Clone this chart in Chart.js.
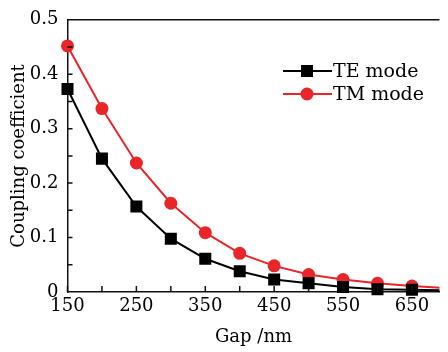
<!DOCTYPE html>
<html lang="en">
<head>
    <meta charset="UTF-8">
    <title>Coupling coefficient vs gap</title>
    <script src="https://cdn.jsdelivr.net/npm/chart.js"></script>
    <style>
        body { margin: 0; background: #fff; overflow: hidden; }
        #wrap { position: relative; width: 448px; height: 352px; }
    </style>
</head>
<body>
    <div id="wrap"><canvas id="gapChart"></canvas></div>

    <script>
        // values
        const gaps = [150, 200, 250, 300, 350, 400, 450, 500, 550, 600, 650, 700];
        const teMode = [0.373, 0.245, 0.157, 0.098, 0.061, 0.038, 0.023, 0.016, 0.009, 0.005, 0.004, 0.003];
        const tmMode = [0.452, 0.337, 0.237, 0.163, 0.109, 0.071, 0.048, 0.032, 0.023, 0.016, 0.011, 0.007];
        const xLabels = [150, 250, 350, 450, 550, 650];
        const yLabels = [0, 0.1, 0.2, 0.3, 0.4, 0.5];

        const RED = '#e8262a';
        const FONT = "'DejaVu Serif', serif";

        // inward ticks, top frame line and the legend inside the plot
        const framePlugin = {
            id: 'frame',
            afterDraw(chart) {
                const ctx = chart.ctx;
                const area = chart.chartArea;
                const xs = chart.scales.x, ys = chart.scales.y;
                ctx.save();
                ctx.strokeStyle = '#111';
                ctx.lineWidth = 1.5;
                ctx.beginPath();
                ctx.moveTo(area.left, area.top);
                ctx.lineTo(area.right, area.top);
                for (let v = 150; v <= 650; v += 50) {
                    const px = xs.getPixelForValue(v);
                    ctx.moveTo(px, area.bottom);
                    ctx.lineTo(px, area.bottom - 6);
                }
                for (let v = 0.05; v < 0.5; v += 0.05) {
                    const py = ys.getPixelForValue(v);
                    ctx.moveTo(area.left, py);
                    ctx.lineTo(area.left + 5, py);
                }
                ctx.stroke();

                // legend
                const items = [
                    { text: 'TE mode', color: '#000', shape: 'rect', y: 71 },
                    { text: 'TM mode', color: RED, shape: 'circle', y: 94 }
                ];
                items.forEach(it => {
                    ctx.strokeStyle = it.color;
                    ctx.fillStyle = it.color;
                    ctx.lineWidth = 2;
                    ctx.beginPath();
                    ctx.moveTo(283, it.y);
                    ctx.lineTo(332, it.y);
                    ctx.stroke();
                    ctx.beginPath();
                    if (it.shape === 'rect') {
                        ctx.rect(301, it.y - 6, 12, 12);
                    } else {
                        ctx.arc(307, it.y, 6.5, 0, Math.PI * 2);
                    }
                    ctx.fill();
                    ctx.fillStyle = '#000';
                    ctx.font = '19px ' + FONT;
                    ctx.textBaseline = 'middle';
                    ctx.fillText(it.text, 333, it.y + 1);
                });
                ctx.restore();
            }
        };

        const ctx = document.getElementById('gapChart').getContext('2d');
        const gapChart = new Chart(ctx, {
            type: 'line',
            data: {
                datasets: [{
                    label: 'TE mode',
                    data: gaps.map((g, i) => ({ x: g, y: teMode[i] })),
                    borderColor: '#000',
                    backgroundColor: '#000',
                    borderWidth: 2,
                    pointStyle: 'rect',
                    pointRadius: 8.5,
                    pointBorderWidth: 0,
                    clip: { left: 12, top: 12, right: 0, bottom: 12 }
                }, {
                    label: 'TM mode',
                    data: gaps.map((g, i) => ({ x: g, y: tmMode[i] })),
                    borderColor: RED,
                    backgroundColor: RED,
                    borderWidth: 2,
                    pointStyle: 'circle',
                    pointRadius: 6.5,
                    pointBorderWidth: 0,
                    clip: { left: 12, top: 12, right: 0, bottom: 12 }
                }]
            },
            options: {
                responsive: true,
                maintainAspectRatio: false,
                animation: false,
                layout: { padding: { top: 12, right: 0, bottom: 0, left: 0 } },
                plugins: { legend: { display: false }, tooltip: { enabled: false } },
                scales: {
                    x: {
                        type: 'linear',
                        min: 150,
                        max: 690,
                        afterFit(scale) { scale.height = 60; },
                        grid: { drawOnChartArea: false, drawTicks: false },
                        border: { color: '#111', width: 1.5 },
                        ticks: {
                            stepSize: 50,
                            includeBounds: false,
                            autoSkip: false,
                            maxRotation: 0,
                            padding: 4,
                            color: '#000',
                            font: { family: FONT, size: 18 },
                            callback: v => xLabels.includes(v) ? String(v) : ''
                        },
                        title: {
                            display: true,
                            text: 'Gap /nm',
                            color: '#000',
                            font: { family: FONT, size: 18 },
                            padding: { top: 0, bottom: 4 }
                        }
                    },
                    y: {
                        min: 0,
                        max: 0.5,
                        afterFit(scale) { scale.width = 67.5; },
                        grid: { drawOnChartArea: false, drawTicks: false },
                        border: { color: '#111', width: 1.5 },
                        ticks: {
                            stepSize: 0.05,
                            autoSkip: false,
                            padding: 9,
                            color: '#000',
                            font: { family: FONT, size: 18 },
                            callback: v => {
                                const r = Math.round(v * 100) / 100;
                                if (!yLabels.includes(r)) return '';
                                return r === 0 ? '0' : r.toFixed(1);
                            }
                        },
                        title: {
                            display: true,
                            text: 'Coupling coefficient',
                            color: '#000',
                            font: { family: FONT, size: 18 },
                            padding: { top: 9, bottom: 0 }
                        }
                    }
                }
            },
            plugins: [framePlugin]
        });
    </script>
</body>
</html>
